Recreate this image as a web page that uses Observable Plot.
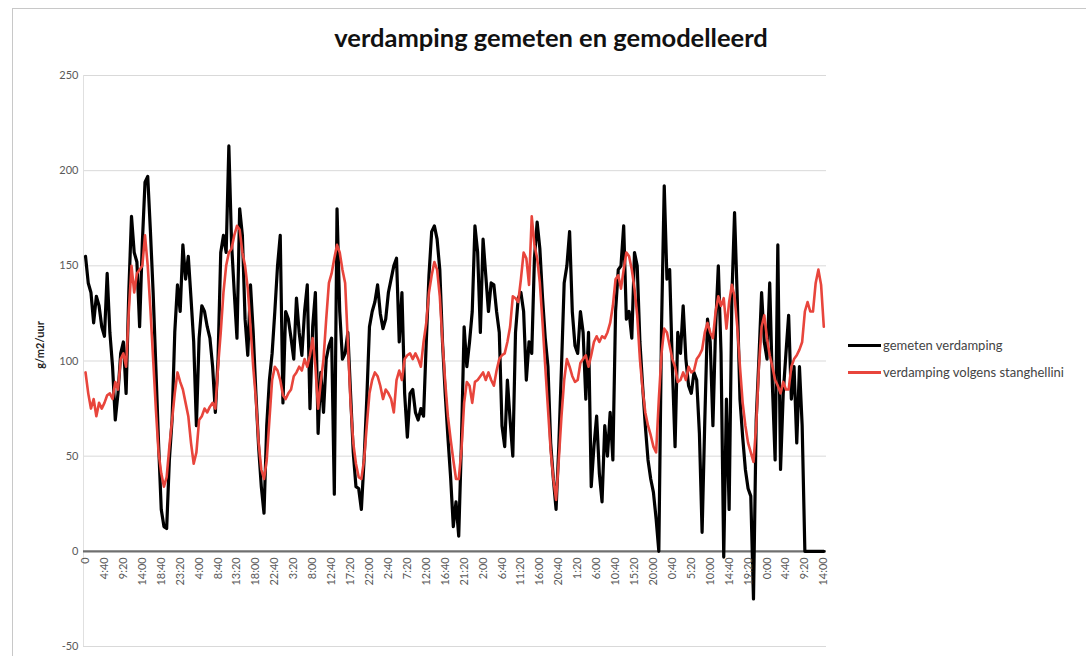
<!DOCTYPE html>
<html><head><meta charset="utf-8">
<script src="https://cdn.jsdelivr.net/npm/d3@7"></script>
<script src="https://cdn.jsdelivr.net/npm/@observablehq/plot@0.6"></script>
<style>
body{margin:0;background:#fff;}
#wrap{position:relative;width:1086px;height:656px;overflow:hidden;font-family:Lato,"Open Sans",sans-serif;background:#fff;}
#frame{position:absolute;left:12px;top:8px;width:1080px;height:660px;border-left:1px solid #c8c8c8;border-top:1px solid #c8c8c8;}
#title{position:absolute;top:25px;left:551px;transform:translateX(-50%);white-space:nowrap;font-size:25.5px;font-weight:700;color:#111;line-height:1;}
#ylabel{position:absolute;left:39px;top:345px;transform:translate(-50%,-50%) rotate(-90deg);white-space:nowrap;font-size:11px;font-weight:700;color:#222;}
#chart{position:absolute;left:0;top:0;}
.leg{position:absolute;left:848px;font-size:13px;color:#444;white-space:nowrap;display:flex;align-items:center;}
.leg span.sw{display:inline-block;width:33px;height:3px;margin-right:2px;}
</style></head><body>
<div id="wrap">
<div id="frame"></div>
<div id="title">verdamping gemeten en gemodelleerd</div>
<div id="ylabel">g/m2/uur</div>
<div id="chart"></div>
<div class="leg" style="top:337px"><span class="sw" style="background:#000"></span><span>gemeten verdamping</span></div>
<div class="leg" style="top:364px"><span class="sw" style="background:#e8453c"></span><span>verdamping volgens stanghellini</span></div>
</div>
<script>
const stepMinutes = 40;
const tickStepMinutes = 280;
const tickLabels = ["0","4:40","9:20","14:00","18:40","23:20","4:00","8:40","13:20","18:00","22:40","3:20","8:00","12:40","17:20","22:00","2:40","7:20","12:00","16:40","21:20","2:00","6:40","11:20","16:00","20:40","1:20","6:00","10:40","15:20","20:00","0:40","5:20","10:00","14:40","19:20","0:00","4:40","9:20","14:00"];
const yTicks = [-50, 0, 50, 100, 150, 200, 250];
const seriesNames = ["gemeten verdamping", "verdamping volgens stanghellini"];
const gemeten = [
155,141,136,120,134,129,118,113,146,115,97,69,83,104,110,83,136,176,157,152,
118,162,194,197,168,136,97,57,22,13,12,48,69,115,140,126,161,143,155,133,
110,66,112,129,126,118,112,97,73,101,157,166,157,213,162,136,112,180,166,122,
103,140,115,83,55,34,20,66,90,104,126,150,166,78,126,122,112,101,133,115,
103,126,140,75,118,136,62,94,73,101,108,112,30,180,126,101,104,115,83,52,
34,33,22,48,80,118,126,131,140,125,117,122,136,143,150,154,110,136,83,60,
83,85,73,69,75,71,110,145,168,171,164,148,110,83,60,39,13,26,8,57,
118,97,110,126,171,157,115,164,145,126,141,140,126,115,66,55,90,69,50,115,
133,136,126,90,110,104,154,173,159,133,112,97,57,38,22,55,97,141,150,168,
126,108,104,126,115,80,115,34,55,71,41,26,66,50,73,48,126,148,150,171,
122,126,112,157,150,110,87,66,48,38,31,17,0,118,192,143,148,97,55,115,
104,129,101,87,83,94,90,62,10,69,122,110,66,118,150,104,-3,80,22,133,
178,133,80,60,43,33,29,-25,69,101,136,110,101,141,87,48,161,43,83,104,
124,80,97,57,97,66,0,0,0,0,0,0,0,0];
const stanghellini = [
94,83,75,80,71,78,75,78,82,83,80,89,85,101,104,97,126,150,136,146,
148,150,166,150,127,101,75,52,41,34,39,55,69,83,94,89,85,78,71,57,
46,52,69,71,75,73,76,78,75,97,115,136,150,157,159,166,171,169,157,150,
138,118,97,80,57,43,38,48,69,90,97,95,90,82,80,83,85,92,94,97,
95,101,97,103,112,97,75,89,101,122,141,146,154,161,157,148,141,110,78,57,
46,39,38,48,66,83,90,94,92,87,80,85,83,80,73,90,95,90,101,103,
104,101,104,101,97,110,120,136,145,152,148,134,110,89,71,59,48,38,38,53,
78,89,87,78,89,90,92,94,90,94,90,87,95,101,103,104,110,118,134,133,
131,143,157,154,140,176,161,154,141,120,97,75,53,38,27,48,71,90,101,97,
92,89,90,99,101,103,97,103,110,113,110,113,112,115,120,129,143,145,138,148,
157,155,148,138,124,101,85,73,66,61,55,52,80,104,117,115,108,101,97,89,
90,94,90,97,94,95,101,103,106,115,120,115,112,126,134,129,133,117,131,140,
134,118,97,78,66,57,52,47,66,97,118,124,112,103,97,90,87,83,89,85,
85,97,101,103,106,110,126,131,126,126,141,148,140,118];

const toRows = (arr, name) => arr.map((v, i) => ({t: i * stepMinutes, v, s: name}));
const blackRows = toRows(gemeten, seriesNames[0]);
const redRows = toRows(stanghellini, seriesNames[1]);
const ticks = tickLabels.map((label, i) => ({t: i * tickStepMinutes, label}));

const chart = Plot.plot({
  width: 1086, height: 656,
  marginLeft: 83, marginRight: 260, marginTop: 75, marginBottom: 10,
  x: {domain: [-30, 10960], axis: null},
  y: {domain: [-50, 250], axis: null},
  style: {background: "transparent", fontFamily: "Lato, 'Open Sans', sans-serif"},
  marks: [
    Plot.ruleY(yTicks.filter(d => d !== 0), {stroke: "#d9d9d9", strokeWidth: 1}),
    Plot.ruleX([-30], {y1: -50, y2: 250, stroke: "#e0e0e0"}),
    Plot.ruleY([0], {stroke: "#6f6f6f", strokeWidth: 2.2}),
    Plot.line(blackRows, {x: "t", y: "v", stroke: "#000", strokeWidth: 3.2, strokeLinejoin: "round"}),
    Plot.line(redRows, {x: "t", y: "v", stroke: "#e8453c", strokeWidth: 2.6, strokeLinejoin: "round"}),
    Plot.axisY({anchor: "left", ticks: yTicks, tickSize: 0, tickPadding: 5, tickFormat: d => String(d), fontSize: 11, fill: "#595959", label: null}),
    Plot.text(ticks, {x: "t", y: 0, text: "label", rotate: -90, textAnchor: "end", dy: 6, fontSize: 11, fill: "#595959"})
  ]
});
document.getElementById("chart").appendChild(chart);
</script>
</body></html>
